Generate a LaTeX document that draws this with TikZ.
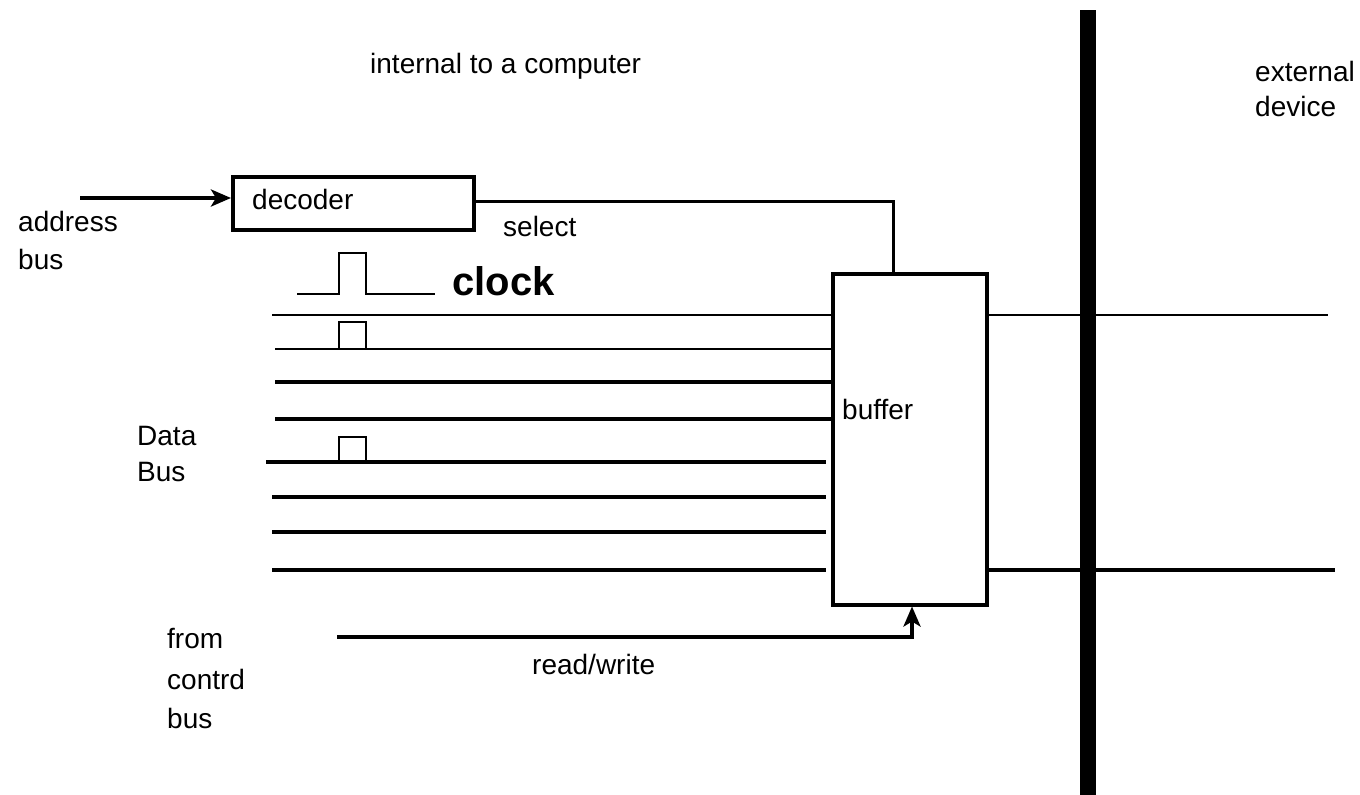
\documentclass[tikz,border=0pt]{standalone}
\usepackage{fontspec}
\setmainfont{Liberation Sans}
\usetikzlibrary{arrows.meta}
\begin{document}
\begin{tikzpicture}[x=1pt,y=-1pt,
  lbl/.style={anchor=base west,inner sep=0pt,font=\fontsize{28}{32}\selectfont},
  blk/.style={draw,line width=3.5pt,inner sep=0pt,anchor=north west},
  thick bus/.style={line width=3.8pt},
  thin bus/.style={line width=1.8pt},
  pulse/.style={line width=1.8pt},
  arr/.style={line width=3.8pt,-{Stealth[length=20pt,width=17pt,inset=5pt]}}]
\useasboundingbox (0,0) rectangle (1360,795);
\fill[white] (0,0) rectangle (1360,795);
% boxes
\node[blk,minimum width=241pt,minimum height=53pt] (dec) at (231,175) {};
\node[blk,minimum width=154pt,minimum height=331pt] (buf) at (831,272) {};
\fill[black] (1080,10) rectangle (1096,795);
% texts
\node[lbl] (t-int) at (370,73) {internal to a computer};
\node[lbl] (t-ext1) at (1255,81) {external};
\node[lbl] (t-ext2) at (1255,116) {device};
\node[lbl] (t-dec) at (252,209) {decoder};
\node[lbl] (t-addr1) at (18,231) {address};
\node[lbl] (t-addr2) at (18,269) {bus};
\node[lbl] (t-sel) at (503,236) {select};
\node[lbl,font=\fontsize{40}{44}\selectfont\bfseries] (t-clk) at (452,295) {clock};
\node[lbl] (t-buf) at (842,419) {buffer};
\node[lbl] (t-data1) at (137,445) {Data};
\node[lbl] (t-data2) at (137,481) {Bus};
\node[lbl] (t-from1) at (167,648) {from};
\node[lbl] (t-from2) at (167,689) {contrd};
\node[lbl] (t-from3) at (167,728) {bus};
\node[lbl] (t-rw) at (532,674) {read/write};
% address bus arrow
\coordinate (addr) at (80,198);
\draw[arr] (addr) -- (dec.west |- addr);
% select
\draw[line width=3pt] (dec.east |- 0,201) -- (893,201) -- (buf.north -| 893,0);
% clock pulse
\coordinate (clk0) at (297,294);
\coordinate (clk1) at (435,294);
\draw[pulse] (clk0) -- (339,294) -- (339,253) -- (366,253) -- (366,294) -- (clk1);
% data lines
\coordinate (d1) at (272,315);
\coordinate (d2) at (275,349);
\coordinate (d3) at (275,382);
\coordinate (d4) at (275,419);
\coordinate (d5) at (266,462);
\coordinate (d6) at (272,497);
\coordinate (d7) at (272,532);
\coordinate (d8) at (272,570);
\draw[thin bus] (d1) -- (d1 -| buf.west);
\draw[thin bus] (buf.east |- d1) -- (1328,315);
\draw[line width=2.4pt] (d2) -- (d2 -| buf.west);
\draw[pulse] (339,349) -- (339,322) -- (366,322) -- (366,349);
\draw[thick bus] (d3) -- (d3 -| buf.west);
\draw[thick bus] (d4) -- (d4 -| buf.west);
\draw[thick bus] (d5) -- (826,462);
\draw[pulse] (339,462) -- (339,437) -- (366,437) -- (366,462);
\draw[thick bus] (d6) -- (826,497);
\draw[thick bus] (d7) -- (826,532);
\draw[thick bus] (d8) -- (826,570);
\draw[thick bus] (buf.east |- d8) -- (1335,570);
% read/write
\coordinate (rw) at (337,637);
\draw[arr] (rw) -- (912,637) -- (buf.south -| 912,0);
\end{tikzpicture}
\end{document}
